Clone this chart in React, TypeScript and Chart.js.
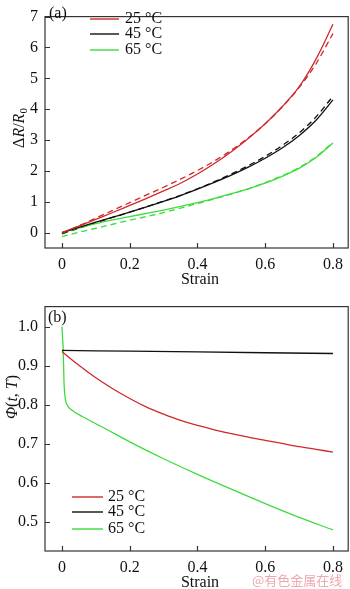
import React, { useEffect, useRef } from "react";
import { Chart, registerables } from "chart.js";

Chart.register(...registerables);

const FONT = "'Liberation Serif', 'Times New Roman', serif";

// ---------- Panel (a): ΔR/R0 vs strain ----------
const strainA = [0, 0.05, 0.1, 0.15, 0.2, 0.25, 0.3, 0.35, 0.4, 0.45, 0.5, 0.55, 0.6, 0.65, 0.7, 0.75, 0.8];
const r25Exp = [0, 0.21, 0.43, 0.65, 0.88, 1.11, 1.35, 1.6, 1.9, 2.24, 2.62, 3.05, 3.53, 4.08, 4.72, 5.62, 6.75];
const r25Fit = [-0.03, 0.22, 0.47, 0.72, 0.97, 1.22, 1.47, 1.73, 2.01, 2.32, 2.67, 3.07, 3.53, 4.07, 4.7, 5.47, 6.45];
const r45Exp = [0, 0.17, 0.34, 0.5, 0.66, 0.83, 1.01, 1.2, 1.41, 1.63, 1.86, 2.12, 2.41, 2.74, 3.14, 3.64, 4.3];
const r45Fit = [-0.04, 0.14, 0.32, 0.49, 0.66, 0.84, 1.02, 1.21, 1.42, 1.65, 1.9, 2.17, 2.47, 2.82, 3.23, 3.75, 4.42];
const r65Exp = [0, 0.15, 0.29, 0.41, 0.52, 0.62, 0.73, 0.85, 0.97, 1.11, 1.26, 1.42, 1.6, 1.82, 2.08, 2.43, 2.9];
const r65Fit = [-0.13, 0.01, 0.14, 0.27, 0.4, 0.52, 0.65, 0.79, 0.94, 1.09, 1.25, 1.42, 1.62, 1.84, 2.11, 2.46, 2.92];
const yTicksA = [0, 1, 2, 3, 4, 5, 6, 7];

// ---------- Panel (b): Φ(t,T) vs strain ----------
const strainB25 = [0, 0.05, 0.1, 0.15, 0.2, 0.25, 0.3, 0.35, 0.4, 0.45, 0.5, 0.55, 0.6, 0.65, 0.7, 0.75, 0.8];
const phi25 = [0.936, 0.901, 0.869, 0.841, 0.816, 0.794, 0.776, 0.76, 0.747, 0.736, 0.726, 0.717, 0.709, 0.701, 0.693, 0.686, 0.679];
const strainB45 = [0, 0.2, 0.4, 0.6, 0.8];
const phi45 = [0.939, 0.937, 0.935, 0.933, 0.931];
const strainB65 = [0, 0.002, 0.004, 0.006, 0.01, 0.015, 0.028, 0.06, 0.13, 0.2, 0.3, 0.4, 0.5, 0.6, 0.7, 0.8];
const phi65 = [1.0, 0.97, 0.935, 0.86, 0.815, 0.8, 0.787, 0.77, 0.738, 0.705, 0.662, 0.622, 0.584, 0.547, 0.512, 0.48];
const yTicksB = [0.5, 0.6, 0.7, 0.8, 0.9, 1.0];

const xTicks = [0, 0.2, 0.4, 0.6, 0.8];
const seriesLabels = ["25 °C", "45 °C", "65 °C"];
const RED = "#d0282a";
const BLACK = "#111111";
const GREEN = "#3ddc3d";

const pts = (xs: number[], ys: number[]) => xs.map((x, i) => ({ x, y: ys[i] }));

type Seg = { t: string; it?: boolean; sub?: boolean };

function drawRich(ctx: CanvasRenderingContext2D, segs: Seg[], size: number) {
  const fontFor = (s: Seg) => `${s.it ? "italic " : ""}${s.sub ? Math.round(size * 0.7) : size}px ${FONT}`;
  let w = 0;
  segs.forEach((s) => { ctx.font = fontFor(s); w += ctx.measureText(s.t).width; });
  let x = -w / 2;
  ctx.textBaseline = "middle";
  ctx.textAlign = "left";
  segs.forEach((s) => {
    ctx.font = fontFor(s);
    ctx.fillText(s.t, x, s.sub ? size * 0.28 : 0);
    x += ctx.measureText(s.t).width;
  });
}

const framePlugin = {
  id: "frame",
  afterDraw(chart: any, _args: any, opts: any) {
    const { ctx, chartArea: a, scales } = chart;
    ctx.save();
    ctx.strokeStyle = "#333";
    ctx.lineWidth = 1.2;
    ctx.strokeRect(a.left, a.top, a.right - a.left, a.bottom - a.top);
    ctx.beginPath();
    scales.x.ticks.forEach((t: any) => {
      const px = Math.round(scales.x.getPixelForValue(t.value)) + 0.5;
      ctx.moveTo(px, a.bottom);
      ctx.lineTo(px, a.bottom - 5);
    });
    scales.y.ticks.forEach((t: any) => {
      const py = Math.round(scales.y.getPixelForValue(t.value)) + 0.5;
      ctx.moveTo(a.left, py);
      ctx.lineTo(a.left + 5, py);
    });
    ctx.stroke();

    ctx.fillStyle = "#111";
    ctx.save();
    ctx.translate(opts.xTitle.x, opts.xTitle.y);
    drawRich(ctx, [{ t: "Strain" }], 16);
    ctx.restore();
    ctx.save();
    ctx.translate(opts.yTitle.x, opts.yTitle.y);
    ctx.rotate(-Math.PI / 2);
    drawRich(ctx, opts.yTitle.segs, 16);
    ctx.restore();
    ctx.font = `16px ${FONT}`;
    ctx.textAlign = "left";
    ctx.textBaseline = "middle";
    ctx.fillText(opts.panel.text, opts.panel.x, opts.panel.y);

    const lg = opts.legend;
    const solid = chart.data.datasets.filter((d: any) => !d.borderDash);
    solid.forEach((d: any, i: number) => {
      const y = lg.ys[i];
      ctx.strokeStyle = d.borderColor;
      ctx.lineWidth = 1.4;
      ctx.beginPath();
      ctx.moveTo(lg.x0, y);
      ctx.lineTo(lg.x1, y);
      ctx.stroke();
      ctx.fillStyle = "#111";
      ctx.font = `16px ${FONT}`;
      ctx.fillText(d.label, lg.tx, y);
    });
    ctx.restore();
  },
};

function makeScales(xMin: number, xMax: number, yMin: number, yMax: number, yT: number[], xH: number, yDigits: number) {
  return {
    x: {
      type: "linear",
      min: xMin,
      max: xMax,
      afterBuildTicks: (s: any) => { s.ticks = xTicks.map((v) => ({ value: v })); },
      afterFit: (s: any) => { s.height = xH; },
      grid: { display: false, drawTicks: false },
      border: { display: false },
      ticks: {
        padding: 7,
        color: "#111",
        font: { family: FONT, size: 16 },
        maxRotation: 0,
        callback: (v: number) => (v === 0 ? "0" : v.toFixed(1)),
      },
    },
    y: {
      type: "linear",
      min: yMin,
      max: yMax,
      afterBuildTicks: (s: any) => { s.ticks = yT.map((v) => ({ value: v })); },
      afterFit: (s: any) => { s.width = 45; },
      grid: { display: false, drawTicks: false },
      border: { display: false },
      ticks: {
        padding: 7,
        color: "#111",
        font: { family: FONT, size: 16 },
        callback: (v: number) => v.toFixed(yDigits),
      },
    },
  };
}

function line(label: string, xs: number[], ys: number[], color: string, dashed = false) {
  return {
    label,
    data: pts(xs, ys),
    borderColor: color,
    backgroundColor: color,
    borderWidth: 1.3,
    borderDash: dashed ? [6, 4] : undefined,
    pointRadius: 0,
    showLine: true,
    cubicInterpolationMode: "monotone",
    fill: false,
  };
}

function ChartCanvas({ config, w, h, top }: { config: any; w: number; h: number; top: number }) {
  const ref = useRef<HTMLCanvasElement>(null);
  useEffect(() => {
    const c = new Chart(ref.current as HTMLCanvasElement, config);
    return () => c.destroy();
  }, []);
  return (
    <canvas
      ref={ref}
      width={w}
      height={h}
      style={{ position: "absolute", left: 0, top, width: w, height: h }}
    />
  );
}

const baseOpts = {
  responsive: false,
  animation: false,
  devicePixelRatio: 1,
};

const configA = {
  type: "scatter",
  data: {
    datasets: [
      line(seriesLabels[0], strainA, r25Exp, RED),
      line(seriesLabels[1], strainA, r45Exp, BLACK),
      line(seriesLabels[2], strainA, r65Exp, GREEN),
      line(seriesLabels[0] + " fit", strainA, r25Fit, RED, true),
      line(seriesLabels[1] + " fit", strainA, r45Fit, BLACK, true),
      line(seriesLabels[2] + " fit", strainA, r65Fit, GREEN, true),
    ],
  },
  options: {
    ...baseOpts,
    layout: { padding: { top: 1, right: 1, left: 0, bottom: 0 } },
    scales: makeScales(-0.05, 0.845, -0.5, 7, yTicksA, 42, 0),
    plugins: {
      legend: { display: false },
      tooltip: { enabled: false },
      frame: {
        xTitle: { x: 200, y: 280 },
        yTitle: { x: 20, y: 128, segs: [{ t: "Δ" }, { t: "R", it: true }, { t: "/" }, { t: "R", it: true }, { t: "0", sub: true }] },
        panel: { text: "(a)", x: 49, y: 14 },
        legend: { x0: 90, x1: 119, tx: 125, ys: [19, 34, 50] },
      },
    },
  },
  plugins: [framePlugin],
};

const configB = {
  type: "scatter",
  data: {
    datasets: [
      line(seriesLabels[0], strainB25, phi25, RED),
      line(seriesLabels[1], strainB45, phi45, BLACK),
      line(seriesLabels[2], strainB65, phi65, GREEN),
    ],
  },
  options: {
    ...baseOpts,
    layout: { padding: { top: 15, right: 1, left: 0, bottom: 0 } },
    scales: makeScales(-0.05, 0.845, 0.426, 1.051, yTicksB, 38, 1),
    plugins: {
      legend: { display: false },
      tooltip: { enabled: false },
      frame: {
        xTitle: { x: 200, y: 293 },
        yTitle: { x: 13, y: 107, segs: [{ t: "Φ", it: true }, { t: "(" }, { t: "t", it: true }, { t: ", " }, { t: "T", it: true }, { t: ")" }] },
        panel: { text: "(b)", x: 48, y: 28 },
        legend: { x0: 72, x1: 103, tx: 108, ys: [207, 222, 239] },
      },
    },
  },
  plugins: [framePlugin],
};

export default function App() {
  return (
    <div style={{ position: "fixed", left: 0, top: 0, width: 350, height: 589, background: "#fff", overflow: "hidden" }}>
      <ChartCanvas config={configA} w={350} h={290} top={0} />
      <ChartCanvas config={configB} w={350} h={299} top={290} />
      <span
        style={{
          position: "absolute",
          left: 252,
          top: 570,
          fontFamily: "'Noto Sans CJK SC', sans-serif",
          fontSize: 13,
          color: "rgba(236,150,160,0.85)",
          whiteSpace: "nowrap",
        }}
      >
        @有色金属在线
      </span>
    </div>
  );
}
